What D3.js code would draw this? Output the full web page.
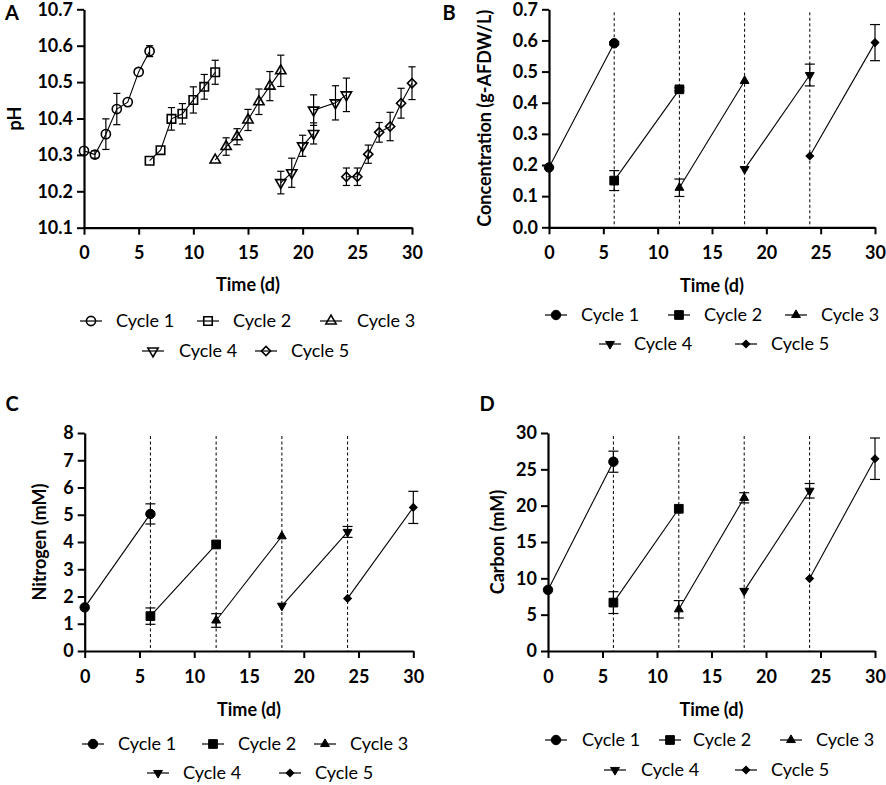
<!DOCTYPE html>
<html>
<head>
<meta charset="utf-8">
<script src="https://cdn.jsdelivr.net/npm/d3@7"></script>
<style>
body{margin:0;background:#fff}
text{font-family:Lato,"Open Sans",sans-serif;fill:#000}
</style>
</head>
<body>
<svg id="fig" width="886" height="785"></svg>
<script>
// ---- data ----
var timeTicks = [0, 5, 10, 15, 20, 25, 30];
var cycleNames = ["Cycle 1", "Cycle 2", "Cycle 3", "Cycle 4", "Cycle 5"];
var feedDays = [6, 12, 18, 24];

// panel A : pH
var phTicks = [10.1, 10.2, 10.3, 10.4, 10.5, 10.6, 10.7];
var phDays = [
	[0, 1, 2, 3, 4, 5, 6],
	[6, 7, 8, 9, 10, 11, 12],
	[12, 13, 14, 15, 16, 17, 18],
	[18, 19, 20, 21, 21, 23, 24],
	[24, 25, 26, 27, 28, 29, 30]
];
var phValues = [
	[10.311, 10.301, 10.357, 10.426, 10.445, 10.528, 10.585],
	[10.284, 10.313, 10.399, 10.413, 10.451, 10.487, 10.527],
	[10.286, 10.323, 10.350, 10.396, 10.446, 10.489, 10.531],
	[10.224, 10.251, 10.325, 10.359, 10.423, 10.443, 10.465],
	[10.240, 10.240, 10.302, 10.362, 10.378, 10.442, 10.497]
];
var phErrors = [
	[0, 0.010, 0.042, 0.043, 0, 0, 0.015],
	[0, 0, 0.031, 0.028, 0.036, 0.034, 0.033],
	[0, 0.024, 0.022, 0.029, 0.035, 0.040, 0.043],
	[0.031, 0.040, 0.029, 0.029, 0.042, 0.047, 0.046],
	[0.024, 0.024, 0.025, 0.027, 0.039, 0.041, 0.045]
];

// panels B, C, D : start and end of each cycle
var cycleDays = [[0, 6], [6, 12], [12, 18], [18, 24], [24, 30]];

var biomassTicks = [0, 0.1, 0.2, 0.3, 0.4, 0.5, 0.6, 0.7];
var biomassValues = [[0.192, 0.591], [0.150, 0.443], [0.127, 0.470], [0.187, 0.489], [0.229, 0.593]];
var biomassErrors = [[0, 0.005], [0.032, 0.005], [0.028, 0], [0, 0.035], [0, 0.058]];

var nitrogenTicks = [0, 1, 2, 3, 4, 5, 6, 7, 8];
var nitrogenValues = [[1.60, 5.03], [1.28, 3.91], [1.12, 4.21], [1.66, 4.37], [1.93, 5.27]];
var nitrogenErrors = [[0, 0.37], [0.30, 0], [0.25, 0], [0, 0.20], [0, 0.59]];

var carbonTicks = [0, 5, 10, 15, 20, 25, 30];
var carbonValues = [[8.41, 26.05], [6.66, 19.57], [5.74, 21.08], [8.27, 22.05], [9.97, 26.46]];
var carbonErrors = [[0, 1.45], [1.5, 0], [1.2, 0.7], [0, 1.0], [0, 2.85]];

var svg = d3.select("#fig");

// marker shapes : circle, square, triangle, triangle down, diamond
function markerPath(i, open){
	var sizes = open ? [66, 72, 46, 46, 42] : [70, 76, 34, 34, 30];
	var types = [d3.symbolCircle, d3.symbolSquare, d3.symbolTriangle, d3.symbolTriangle, d3.symbolSquare];
	return d3.symbol().type(types[i]).size(sizes[i])();
}
function markerRotate(i){
	if(i == 3) return " rotate(180)";
	if(i == 4) return " rotate(45)";
	return "";
}

function drawMarker(g, i, cx, cy, open){
	g.append("path")
		.attr("d", markerPath(i, open))
		.attr("transform", "translate(" + cx + "," + cy + ")" + markerRotate(i))
		.attr("fill", open ? "none" : "#000")
		.attr("stroke", "#000")
		.attr("stroke-width", open ? 1.6 : 1);
}

function drawPanel(p){
	var g = svg.append("g");
	var xScale = d3.scaleLinear().domain([0, 30]).range([p.left, p.right]);
	var yScale = d3.scaleLinear().domain(p.yDomain).range([p.bottom, p.top]);

	// dashed feeding lines
	if(p.dashed){
		feedDays.forEach(function(d){
			g.append("line")
				.attr("x1", xScale(d)).attr("x2", xScale(d))
				.attr("y1", p.top + 3).attr("y2", p.bottom)
				.attr("stroke", "#000")
				.attr("stroke-width", 1)
				.attr("stroke-dasharray", "3,2.5");
		});
	}

	// axes
	var xAxis = d3.axisBottom(xScale).tickValues(timeTicks).tickSize(7).tickSizeOuter(0).tickPadding(12);
	var yAxis = d3.axisLeft(yScale).tickValues(p.yTicks).tickSize(7).tickSizeOuter(0).tickPadding(4).tickFormat(p.fmt);

	var gx = g.append("g").attr("transform", "translate(0," + p.bottom + ")").call(xAxis);
	var gy = g.append("g").attr("transform", "translate(" + p.left + ",0)").call(yAxis);
	[gx, gy].forEach(function(a){
		a.select(".domain").attr("stroke-width", 2.2);
		a.selectAll(".tick line").attr("stroke-width", 2);
		a.selectAll(".tick text")
			.attr("font-size", 18)
			.attr("font-weight", "bold")
			.attr("font-family", "Lato, 'Open Sans', sans-serif");
	});

	// curves, error bars, markers
	for(var c = 0; c < 5; c++){
		var xs = p.days[c], ys = p.values[c], es = p.errors[c];
		var pts = xs.map(function(d, k){ return [d, ys[k], es[k]]; });

		var line = d3.line()
			.x(function(d){ return xScale(d[0]); })
			.y(function(d){ return yScale(d[1]); });
		g.append("path")
			.attr("d", line(pts))
			.attr("fill", "none")
			.attr("stroke", "#000")
			.attr("stroke-width", 1.1);

		pts.forEach(function(d){
			if(d[2] > 0){
				var cx = xScale(d[0]);
				var y1 = yScale(d[1] - d[2]), y2 = yScale(d[1] + d[2]);
				g.append("line").attr("x1", cx).attr("x2", cx).attr("y1", y1).attr("y2", y2)
					.attr("stroke", "#000").attr("stroke-width", 1.2);
				[y1, y2].forEach(function(yy){
					g.append("line").attr("x1", cx - p.cap).attr("x2", cx + p.cap).attr("y1", yy).attr("y2", yy)
						.attr("stroke", "#000").attr("stroke-width", 1.2);
				});
			}
		});
		pts.forEach(function(d){
			drawMarker(g, c, xScale(d[0]), yScale(d[1]), p.open);
		});
	}

	// titles
	g.append("text")
		.attr("x", (p.left + p.right) / 2).attr("y", p.timeY).attr("dy", "0.35em")
		.attr("text-anchor", "middle").attr("font-size", 18).attr("font-weight", "bold")
		.text("Time (d)");
	g.append("text")
		.attr("transform", "translate(" + p.yLabelX + "," + ((p.top + p.bottom) / 2) + ") rotate(-90)")
		.attr("dy", "0.35em")
		.attr("text-anchor", "middle").attr("font-size", 18).attr("font-weight", "bold")
		.text(p.yLabel);
	g.append("text")
		.attr("x", p.letter[0]).attr("y", p.letter[1]).attr("dy", "0.35em")
		.attr("text-anchor", "middle").attr("font-size", 20).attr("font-weight", "bold")
		.text(p.letterText);

	// legend
	p.legend.forEach(function(it, i){
		var lg = g.append("g");
		lg.append("line")
			.attr("x1", it[0] - 11).attr("x2", it[0] + 11)
			.attr("y1", it[2]).attr("y2", it[2])
			.attr("stroke", "#000").attr("stroke-width", 1.2);
		drawMarker(lg, i, it[0], it[2], p.open);
		lg.append("text")
			.attr("x", it[1]).attr("y", it[2]).attr("dy", "0.35em")
			.attr("font-size", 18)
			.text(cycleNames[i]);
	});
}

function pairs(v){ return v; }

drawPanel({
	left: 84, right: 412, top: 9.3, bottom: 227.7,
	yDomain: [10.1, 10.7], yTicks: phTicks, fmt: d3.format(".1f"),
	days: phDays, values: phValues, errors: phErrors,
	open: true, dashed: false, cap: 3.6,
	yLabel: "pH", yLabelX: 15, letter: [12, 13], letterText: "A",
	timeY: 285,
	legend: [[91, 116, 321], [208, 233, 321], [331, 357, 321], [153, 179, 351], [266, 291, 351]]
});

drawPanel({
	left: 549, right: 875, top: 9.3, bottom: 227.3,
	yDomain: [0, 0.7], yTicks: biomassTicks, fmt: d3.format(".1f"),
	days: cycleDays, values: biomassValues, errors: biomassErrors,
	open: false, dashed: true, cap: 5,
	yLabel: "Concentration (g-AFDW/L)", yLabelX: 485, letter: [449, 13], letterText: "B",
	timeY: 286,
	legend: [[556, 581, 315], [679, 704, 315], [796, 821, 315], [610, 634, 344], [746, 771, 344]]
});

drawPanel({
	left: 84.7, right: 413.3, top: 433, bottom: 651,
	yDomain: [0, 8], yTicks: nitrogenTicks, fmt: d3.format("d"),
	days: cycleDays, values: nitrogenValues, errors: nitrogenErrors,
	open: false, dashed: true, cap: 5,
	yLabel: "Nitrogen (mM)", yLabelX: 40, letter: [12, 404], letterText: "C",
	timeY: 710,
	legend: [[93, 118, 744], [213, 238, 744], [325, 350, 744], [158, 183, 773], [290, 315, 773]]
});

drawPanel({
	left: 548, right: 875, top: 433, bottom: 651,
	yDomain: [0, 30], yTicks: carbonTicks, fmt: d3.format("d"),
	days: cycleDays, values: carbonValues, errors: carbonErrors,
	open: false, dashed: true, cap: 5,
	yLabel: "Carbon (mM)", yLabelX: 498, letter: [487, 404], letterText: "D",
	timeY: 710,
	legend: [[556, 582, 740], [670, 693, 740], [791, 816, 740], [615, 641, 770], [746, 771, 770]]
});
</script>
</body>
</html>
